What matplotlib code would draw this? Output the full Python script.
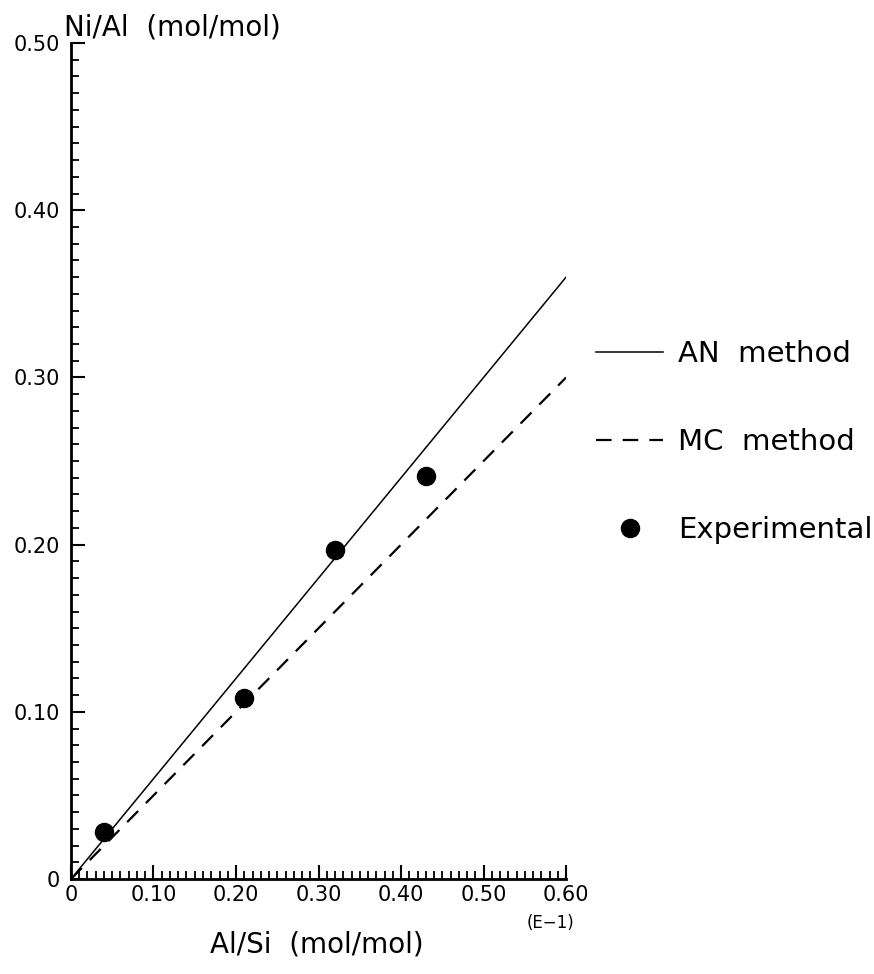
import matplotlib
matplotlib.use('Agg')
import matplotlib.pyplot as plt
from matplotlib.ticker import MultipleLocator, FixedLocator
import numpy as np

# Al/Si (x, in units of E-1) vs Ni/Al
exp_x = [0.04, 0.21, 0.32, 0.43]
exp_y = [0.028, 0.108, 0.197, 0.241]
an_x = [0.0, 0.60]
an_y = [0.0, 0.36]
mc_x = [0.0, 0.60]
mc_y = [0.0, 0.30]
xticks = [0, 0.10, 0.20, 0.30, 0.40, 0.50, 0.60]
xticklabels = ['0', '0.10', '0.20', '0.30', '0.40', '0.50', '0.60']
yticks = [0, 0.10, 0.20, 0.30, 0.40, 0.50]
yticklabels = ['0', '0.10', '0.20', '0.30', '0.40', '0.50']

plt.rcParams['font.family'] = ['DejaVu Sans']

fig = plt.figure(figsize=(8.74, 9.74), dpi=100)
ax = fig.add_axes([0.0812, 0.0975, 0.5665, 0.8583])

ax.plot(an_x, an_y, color='black', lw=1.1, label='AN  method')
ax.plot(mc_x, mc_y, color='black', lw=1.6, ls=(0, (7, 5)), label='MC  method')
ax.plot(exp_x, exp_y, 'o', color='black', ms=13, ls='none', label='Experimental')

ax.set_xlim(0, 0.60)
ax.set_ylim(0, 0.50)
for s in ['top', 'right']:
    ax.spines[s].set_visible(False)
for s in ['left', 'bottom']:
    ax.spines[s].set_linewidth(2)

ax.xaxis.set_major_locator(FixedLocator(xticks))
ax.set_xticklabels(xticklabels)
ax.yaxis.set_major_locator(FixedLocator(yticks))
ax.set_yticklabels(yticklabels)
ax.xaxis.set_minor_locator(MultipleLocator(0.01))
ax.yaxis.set_minor_locator(MultipleLocator(0.01))
ax.tick_params(which='major', direction='in', length=10, width=1.5, labelsize=15)
ax.tick_params(axis='x', which='major', pad=4)
ax.tick_params(axis='y', which='major', pad=8)
ax.tick_params(which='minor', direction='in', length=6, width=1.3)

ax.text(-0.008, 0.5045, 'Ni/Al  (mol/mol)', fontsize=20, ha='left', va='baseline')
fig.text(0.630, 0.052, '(E\u22121)', fontsize=12, ha='center', va='center')
fig.text(0.362, 0.030, 'Al/Si  (mol/mol)', fontsize=20, ha='center', va='center')

fig.legend(loc='center left', bbox_to_anchor=(0.652, 0.546), frameon=False,
           fontsize=21, handlelength=2.3, handletextpad=0.5, labelspacing=2.05,
           markerscale=1.0)

fig.savefig('out.png', dpi=100)
